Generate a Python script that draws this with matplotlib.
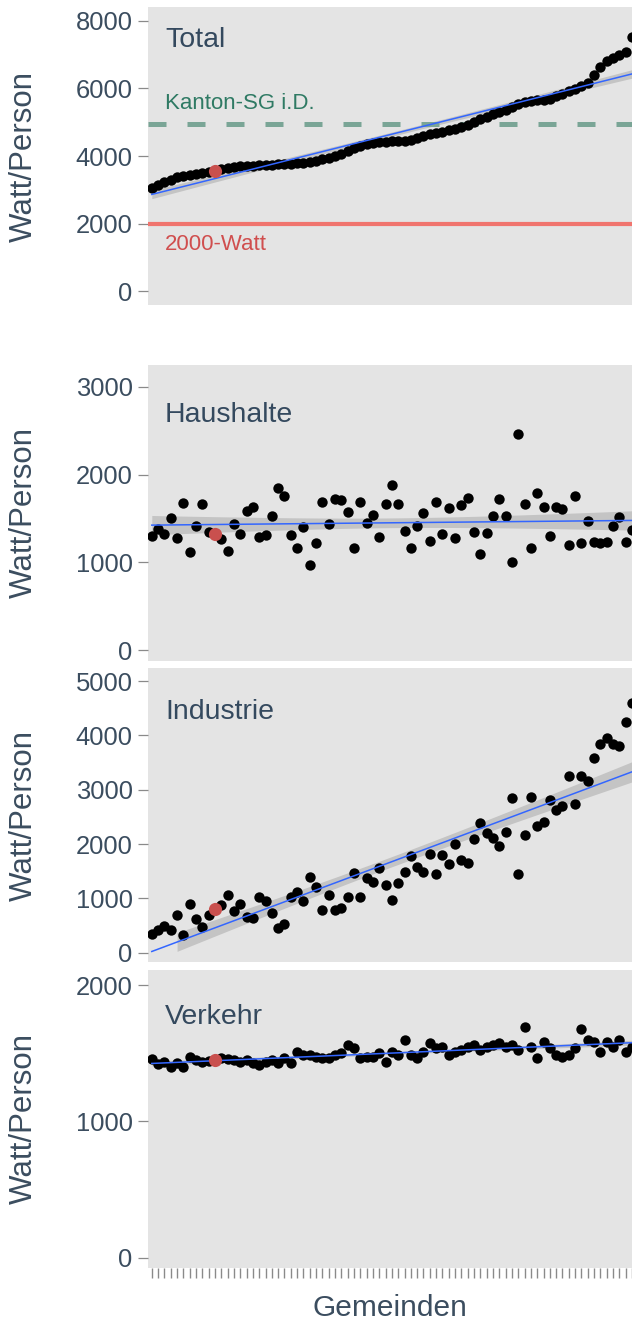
import numpy as np
import matplotlib
matplotlib.use("Agg")
from matplotlib import pyplot as plt

plt.rcParams['font.family'] = ['Liberation Sans', 'DejaVu Sans']

# Gemeinden, sorted by total consumption (Watt/Person)
total = [3050, 3150, 3230, 3300, 3370, 3400, 3450, 3480, 3510, 3530,
         3560, 3620, 3650, 3670, 3690, 3700, 3710, 3720, 3730, 3740,
         3750, 3760, 3770, 3780, 3800, 3830, 3860, 3900, 3950, 4000,
         4070, 4150, 4250, 4300, 4340, 4380, 4410, 4420, 4430, 4440,
         4450, 4480, 4540, 4600, 4640, 4680, 4720, 4770, 4810, 4870,
         4930, 5000, 5080, 5150, 5230, 5300, 5370, 5450, 5530, 5590,
         5620, 5640, 5660, 5680, 5760, 5840, 5910, 5990, 6080, 6170,
         6380, 6620, 6800, 6900, 6980, 7060, 7500]
haushalte = [1300, 1377, 1323, 1509, 1274, 1680, 1121, 1418, 1662, 1350,
             1323, 1262, 1133, 1441, 1323, 1585, 1635, 1285, 1312, 1532,
             1844, 1760, 1312, 1160, 1407, 970, 1217, 1692, 1437, 1718,
             1711, 1570, 1160, 1692, 1452, 1540, 1293, 1662, 1882, 1662,
             1361, 1168, 1414, 1559, 1243, 1692, 1319, 1616, 1274, 1654,
             1738, 1350, 1092, 1331, 1532, 1718, 1532, 1007, 2460, 1665,
             1168, 1794, 1635, 1300, 1635, 1608, 1198, 1760, 1217, 1471,
             1236, 1217, 1236, 1418, 1513, 1236, 1369]
industrie = [344, 423, 484, 423, 686, 331, 895, 619, 472, 700,
             803, 870, 1066, 760, 895, 655, 637, 1017, 944, 729,
             453, 527, 1023, 1127, 956, 1403, 1219, 778, 1054, 790,
             821, 1023, 1465, 1023, 1373, 1311, 1556, 1250, 974, 1281,
             1483, 1789, 1586, 1495, 1820, 1446, 1801, 1636, 2004, 1710,
             1649, 2096, 2384, 2212, 2120, 1967, 2230, 2855, 1446, 2169,
             2874, 2341, 2414, 2813, 2629, 2708, 3254, 2733, 3254, 3162,
             3579, 3842, 3958, 3842, 3805, 4241, 4590]
verkehr = [1456, 1419, 1438, 1401, 1426, 1401, 1475, 1450, 1438, 1445,
           1450, 1463, 1456, 1450, 1438, 1450, 1426, 1414, 1438, 1450,
           1431, 1463, 1426, 1511, 1487, 1487, 1475, 1463, 1463, 1487,
           1499, 1560, 1536, 1463, 1475, 1475, 1499, 1438, 1511, 1487,
           1597, 1487, 1463, 1511, 1572, 1536, 1548, 1487, 1511, 1524,
           1548, 1560, 1524, 1548, 1560, 1572, 1548, 1560, 1524, 1694,
           1548, 1463, 1584, 1536, 1487, 1475, 1487, 1536, 1675, 1597,
           1584, 1511, 1584, 1548, 1597, 1511, 1548]
highlight = 11          # the highlighted Gemeinde (red)
kanton_sg = 4940
ziel_2000 = 2000

panels = [("Total", total, [0, 2000, 4000, 6000, 8000], (-400, 8400), (7, 305)),
          ("Haushalte", haushalte, [0, 1000, 2000, 3000], (-125, 3250), (365, 661)),
          ("Industrie", industrie, [0, 1000, 2000, 3000, 4000, 5000], (-170, 5240), (668, 962)),
          ("Verkehr", verkehr, [0, 1000, 2000], (-75, 2110), (970, 1268))]

W, H = 632, 1323
fig = plt.figure(figsize=(W / 100, H / 100), dpi=100)
txt = '#3b4d5f'
x = np.arange(1, len(total) + 1)

for k, (name, vals, ticks, ylim, (top, bot)) in enumerate(panels):
    ax = fig.add_axes([148 / W, 1 - bot / H, (W - 148) / W, (bot - top) / H])
    ax.set_facecolor('#e4e4e4')
    for s in ax.spines.values():
        s.set_visible(False)
    y = np.array(vals, dtype=float)

    ax.scatter(x, y, s=56, color='black', marker='o', linewidths=0, zorder=3)

    # linear smoother with 95% band
    b, a = np.polyfit(x, y, 1)
    fit = a + b * x
    n = len(x)
    resid = y - fit
    s_err = np.sqrt(np.sum(resid ** 2) / (n - 2))
    se = s_err * np.sqrt(1 / n + (x - x.mean()) ** 2 / np.sum((x - x.mean()) ** 2))
    lo, hi = fit - 1.99 * se, fit + 1.99 * se
    ax.fill_between(x, lo, hi, where=lo >= 0, color='#c4c4c4',
                    linewidth=0, zorder=2)
    ax.plot(x, fit, color='#3366ff', lw=1.1, zorder=5)

    ax.scatter([highlight], [y[highlight - 1]], s=90, color='#c9504e',
               linewidths=0, zorder=6)

    ax.set_xlim(0.4, 77.0)
    ax.set_ylim(*ylim)
    ax.set_yticks(ticks)
    ax.set_yticklabels([str(t) for t in ticks], fontsize=18.4, color=txt)
    ax.tick_params(axis='y', length=7, width=0.9, color='#8a8a8a', pad=4)
    ax.set_ylabel('Watt/Person', fontsize=22.5, color=txt)
    ax.yaxis.set_label_coords((39 - 148) / (W - 148), 0.5)

    if k == 3:
        ax.set_xticks(x)
        ax.set_xticklabels([])
        ax.tick_params(axis='x', length=7, width=1.0, color='#8a8a8a', pad=2)
        ax.set_xlabel('Gemeinden', fontsize=21.5, color=txt, labelpad=10)
    else:
        ax.set_xticks([])

    ax.text(17 / (W - 148), 1 - {0: 33, 1: 50, 2: 44, 3: 47}[k] / (bot - top), name,
            transform=ax.transAxes, fontsize=20.5, color='#34495e', va='center', ha='left')

    if k == 0:
        ax.axhline(kanton_sg, color='#7aa596', lw=3.6, dashes=(3.6, 4.2), zorder=2)
        ax.axhline(ziel_2000, color='#f0746e', lw=3.0, zorder=2)
        ax.text(17 / (W - 148), kanton_sg + 600, 'Kanton-SG i.D.', fontsize=16,
                color='#2f7a64', va='center', ha='left',
                transform=ax.get_yaxis_transform())
        ax.text(17 / (W - 148), ziel_2000 - 620, '2000-Watt', fontsize=16,
                color='#d04e4e', va='center', ha='left',
                transform=ax.get_yaxis_transform())

fig.savefig('out.png', dpi=100)
